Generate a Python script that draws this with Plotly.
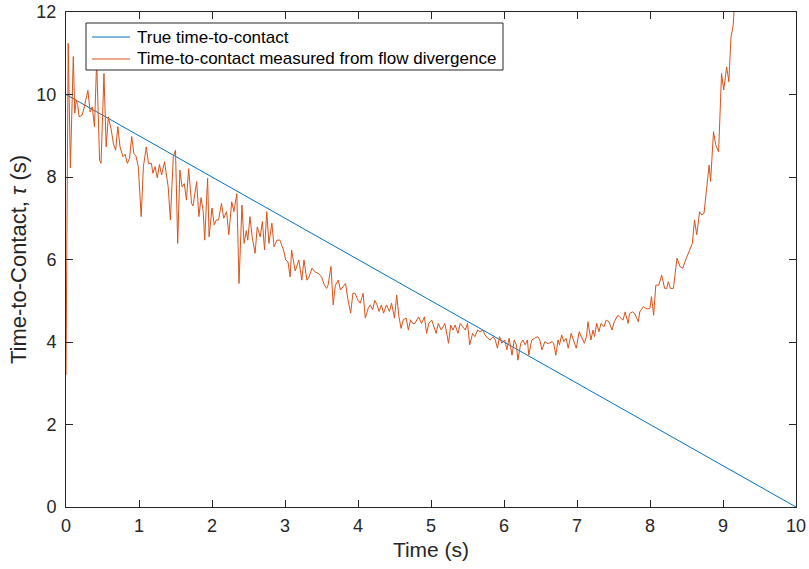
import plotly.graph_objects as go

# True time-to-contact (linear)
true_t = [0, 10]
true_tau = [10, 0]

# Measured time-to-contact from flow divergence
meas_t = [
    0.00, 0.03, 0.06, 0.10, 0.12, 0.14, 0.16, 0.18, 0.22, 0.24, 0.30, 0.33, 0.36, 0.39, 0.42,
    0.46, 0.48, 0.52, 0.55, 0.58, 0.62, 0.65, 0.68, 0.71, 0.74, 0.78, 0.81, 0.84, 0.87, 0.90,
    0.93, 0.96, 0.99, 1.03, 1.06, 1.10, 1.13, 1.17, 1.19, 1.22, 1.25, 1.28, 1.31, 1.35, 1.40,
    1.43, 1.47, 1.50, 1.53, 1.56, 1.59, 1.62, 1.65, 1.68, 1.72, 1.74, 1.79, 1.82, 1.85, 1.88,
    1.90, 1.94, 1.96, 2.00, 2.03, 2.06, 2.09, 2.13, 2.16, 2.20, 2.23, 2.27, 2.30, 2.34, 2.37,
    2.41, 2.44, 2.47, 2.49, 2.52, 2.55, 2.59, 2.62, 2.66, 2.69, 2.72, 2.75, 2.78, 2.82, 2.85,
    2.89, 2.93, 2.98, 3.01, 3.04, 3.07, 3.09, 3.14, 3.19, 3.23, 3.26, 3.30, 3.33, 3.37, 3.41,
    3.46, 3.50, 3.54, 3.57, 3.59, 3.63, 3.66, 3.69, 3.73, 3.76, 3.80, 3.83, 3.86, 3.90, 3.93,
    3.96, 4.00, 4.03, 4.07, 4.10, 4.14, 4.17, 4.20, 4.23, 4.26, 4.29, 4.32, 4.35, 4.39, 4.43,
    4.46, 4.50, 4.53, 4.56, 4.59, 4.62, 4.66, 4.69, 4.72, 4.75, 4.78, 4.83, 4.87, 4.91, 4.94,
    4.97, 5.01, 5.04, 5.07, 5.10, 5.14, 5.19, 5.24, 5.27, 5.30, 5.33, 5.37, 5.40, 5.44, 5.47,
    5.50, 5.53, 5.57, 5.60, 5.64, 5.67, 5.71, 5.74, 5.78, 5.81, 5.85, 5.88, 5.91, 5.94, 5.97,
    6.01, 6.04, 6.07, 6.11, 6.14, 6.17, 6.19, 6.23, 6.26, 6.29, 6.32, 6.34, 6.38, 6.42, 6.46,
    6.49, 6.52, 6.56, 6.59, 6.62, 6.66, 6.68, 6.71, 6.74, 6.76, 6.79, 6.82, 6.85, 6.88, 6.92,
    6.95, 6.99, 7.03, 7.06, 7.10, 7.13, 7.15, 7.19, 7.22, 7.24, 7.27, 7.30, 7.33, 7.37, 7.40,
    7.44, 7.48, 7.51, 7.56, 7.58, 7.61, 7.63, 7.66, 7.70, 7.72, 7.76, 7.79, 7.84, 7.86, 7.91,
    7.94, 7.97, 8.00, 8.02, 8.05, 8.08, 8.12, 8.16, 8.20, 8.23, 8.25, 8.28, 8.32, 8.37, 8.41,
    8.45, 8.48, 8.55, 8.58, 8.61, 8.64, 8.68, 8.71, 8.74, 8.78, 8.81, 8.83, 8.87, 8.90, 8.94,
    8.98, 9.01, 9.05, 9.08, 9.11, 9.14, 9.16,
]
meas_tau = [
    3.20, 11.24, 8.22, 10.92, 9.55, 9.87, 9.75, 9.46, 9.50, 9.62, 10.10, 9.58, 9.70, 9.22, 10.80,
    8.41, 8.33, 10.51, 8.73, 9.46, 9.14, 8.80, 8.65, 9.22, 8.73, 8.49, 8.55, 8.33, 8.45, 8.98,
    8.57, 8.50, 8.25, 7.04, 8.25, 8.73, 8.33, 8.33, 8.09, 8.25, 7.98, 8.30, 8.05, 8.37, 7.76,
    6.96, 8.49, 8.65, 6.39, 8.17, 7.76, 7.84, 7.44, 8.20, 7.36, 7.30, 7.89, 7.04, 7.50, 7.16,
    6.47, 7.97, 6.55, 7.25, 6.84, 6.96, 6.96, 7.36, 7.00, 7.16, 6.60, 7.40, 7.16, 7.60, 5.42,
    7.32, 6.39, 6.70, 6.47, 7.04, 6.55, 6.15, 6.79, 6.55, 6.92, 6.23, 7.16, 6.39, 6.88, 6.31,
    6.47, 6.47, 6.23, 5.99, 5.95, 5.58, 6.23, 5.72, 5.99, 5.50, 5.99, 5.50, 5.58, 5.79, 5.70,
    5.66, 5.58, 5.38, 5.30, 5.38, 5.83, 4.90, 5.38, 5.50, 5.26, 5.34, 5.42, 5.05, 4.70, 5.18,
    5.18, 5.01, 4.94, 5.18, 4.58, 4.82, 4.90, 4.78, 5.01, 4.90, 4.74, 4.90, 4.70, 4.90, 4.74,
    4.94, 4.58, 5.14, 4.62, 4.33, 4.54, 4.58, 4.29, 4.54, 4.45, 4.45, 4.61, 4.45, 4.61, 4.21,
    4.45, 4.53, 4.37, 4.21, 4.45, 4.29, 4.45, 3.97, 4.41, 4.29, 4.41, 4.21, 4.45, 4.37, 4.29,
    4.45, 3.93, 4.21, 4.13, 4.29, 4.25, 4.29, 4.17, 4.09, 4.05, 4.13, 4.05, 3.85, 4.13, 3.97,
    4.05, 3.81, 4.09, 3.68, 4.05, 3.93, 3.56, 3.97, 4.05, 3.93, 4.05, 3.68, 4.05, 4.09, 4.13,
    4.05, 3.81, 4.01, 3.97, 3.97, 4.01, 3.97, 3.68, 4.05, 3.93, 4.17, 4.01, 4.09, 3.85, 4.21,
    4.05, 3.85, 4.25, 4.13, 3.97, 4.13, 4.49, 4.05, 4.29, 4.13, 4.45, 4.25, 4.45, 4.37, 4.53,
    4.49, 4.29, 4.49, 4.65, 4.61, 4.57, 4.53, 4.73, 4.45, 4.69, 4.73, 4.69, 4.49, 4.73, 4.86,
    4.82, 4.80, 4.82, 5.10, 4.65, 5.38, 5.38, 5.62, 5.30, 5.30, 5.46, 5.30, 5.30, 6.03, 5.83,
    5.79, 5.95, 6.27, 6.39, 6.96, 6.60, 7.16, 7.08, 7.12, 7.89, 8.29, 7.89, 9.10, 8.78, 8.61,
    10.51, 10.11, 10.67, 10.31, 11.40, 11.68, 12.30,
]

series_names = ["True time-to-contact", "Time-to-contact measured from flow divergence"]
series_colors = ["#0072BD", "#D95319"]

x_ticks = [0, 1, 2, 3, 4, 5, 6, 7, 8, 9, 10]
y_ticks = [0, 2, 4, 6, 8, 10, 12]

AX = "#262626"
FONT = "Liberation Sans, Arial, sans-serif"

fig = go.Figure()
fig.add_trace(go.Scatter(x=true_t, y=true_tau, mode="lines",
                         line=dict(color=series_colors[0], width=1),
                         name=series_names[0]))
fig.add_trace(go.Scatter(x=meas_t, y=meas_tau, mode="lines",
                         line=dict(color=series_colors[1], width=1),
                         name=series_names[1]))

axis_common = dict(showline=True, mirror="ticks", linecolor=AX, linewidth=1,
                   ticks="inside", ticklen=7, tickcolor=AX, tickwidth=1,
                   showgrid=False, zeroline=False, automargin=False,
                   tickfont=dict(family=FONT, size=18, color=AX))

fig.update_xaxes(range=[0, 10], tickvals=x_ticks, ticklabelstandoff=2,
                 title=dict(text="Time (s)", font=dict(family=FONT, size=21, color=AX), standoff=7),
                 **axis_common)
fig.update_yaxes(range=[0, 12], tickvals=y_ticks, ticklabelstandoff=5,
                 title=dict(text="Time-to-Contact, <i>τ</i> (s)", font=dict(family=FONT, size=22, color=AX), standoff=3),
                 **axis_common)

# Legend drawn as a box (MATLAB style) in plot-area paper coordinates
L, R, B, T = 66, 796, 507, 12
def px(xp):
    return (xp - L) / (R - L)
def py(yp):
    return (B - yp) / (B - T)

shapes = [dict(type="rect", xref="paper", yref="paper",
               x0=px(86), x1=px(503), y0=py(70), y1=py(23),
               line=dict(color=AX, width=1), fillcolor="white", layer="above")]
annotations = []
row_y = [37, 59]
for name, color, ry in zip(series_names, series_colors, row_y):
    shapes.append(dict(type="line", xref="paper", yref="paper",
                       x0=px(92), x1=px(130), y0=py(ry), y1=py(ry),
                       line=dict(color=color, width=1), layer="above"))
    annotations.append(dict(xref="paper", yref="paper", x=px(135), y=py(ry),
                            text=name, showarrow=False, xanchor="left", yanchor="middle",
                            font=dict(family=FONT, size=17, color="black")))

fig.update_layout(
    width=809, height=569,
    margin=dict(l=66, r=13, t=12, b=62),
    paper_bgcolor="white", plot_bgcolor="white",
    showlegend=False,
    shapes=shapes, annotations=annotations,
)

fig.write_html("out.html")
